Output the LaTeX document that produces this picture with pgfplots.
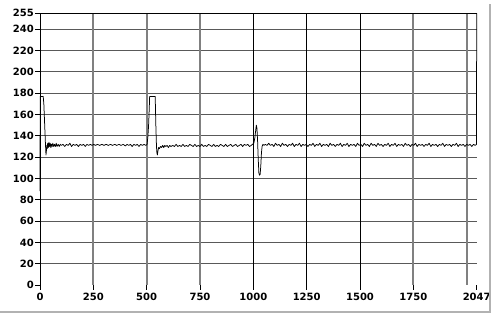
\documentclass[border=0pt]{standalone}
\usepackage{pgfplots}
\pgfplotsset{compat=1.18}
\usepackage{fontspec}
\setmainfont{DejaVu Sans}
\begin{document}
\begin{tikzpicture}[x=1pt,y=1pt]
\useasboundingbox (0,0) rectangle (493,313);
\begin{axis}[
  at={(40pt,28pt)}, anchor=south west,
  scale only axis, width=436.7pt, height=271.7pt,
  xmin=0, xmax=2047, ymin=0, ymax=255,
  axis line style={draw=none},
  xtick={0,250,500,750,1000,1250,1500,1750,2047},
  ytick={0,20,40,60,80,100,120,140,160,180,200,220,240,255},
  xticklabels={0,250,500,750,1000,1250,1500,1750,2047},
  yticklabels={0,20,40,60,80,100,120,140,160,180,200,220,240,255},
  tick align=outside, major tick length=5pt,
  xtick pos=bottom, ytick pos=left,
  tick style={black, line width=0.8pt},
  ticklabel style={font=\fontsize{10}{11}\selectfont\bfseries},
  yticklabel style={inner sep=1pt},
  xticklabel style={inner sep=1pt, yshift=-2pt},
  clip=false,
]
% grid
\foreach \yy in {20,40,...,240}{
  \edef\tmp{\noexpand\draw[black!65, line width=1.1pt] (axis cs:0,\yy) -- (axis cs:2047,\yy);}\tmp
}
\foreach \xx in {250,500,750,1750,2000}{
  \edef\tmp{\noexpand\draw[black!50, line width=1.8pt] (axis cs:\xx,0) -- (axis cs:\xx,255);}\tmp
}
\foreach \xx in {1000,1250,1500}{
  \edef\tmp{\noexpand\draw[black, line width=0.9pt] (axis cs:\xx,0) -- (axis cs:\xx,255);}\tmp
}
\draw[black, line width=1pt] (axis cs:0,0) -- (axis cs:0,255) -- (axis cs:2047,255);
\addplot[black, line width=0.75pt, line join=round] coordinates {
(0,88) (1,177) (15,177) (18,170) (22,150) (25,135) (28,122) (30,126) (32,131) (34,128) (36,133) (39,129) (42,134) (45,130) (48,133) (51,129) (54,132) (57,130) (60,133) (64,130) (68,132) (72,130) (76,133) (80,130) (85,132) (90,130) (95,132) (100,131)
(108,132) (116,130) (124,132) (132,131) (140,133) (148,130) (156,132) (164,131) (172,132) (180,130) (188,132) (196,131) (204,132) (212,130) (220,132) (228,131) (236,132) (244,131) (252,132)
(260,131) (270,132) (280,131) (290,132) (300,131) (310,132) (320,131) (330,132) (340,131) (350,132) (360,131) (370,132) (380,131) (390,132) (400,130.5) (408,132) (416,131) (424,132) (432,130) (440,132) (448,131) (456,132) (464,130) (472,132) (480,131) (488,132) (496,131) (502,132)
(506,140) (509,150) (512,165) (514,177) (540,177) (543,150) (546,130) (548,124) (550,122) (553,126) (556,129) (560,128) (565,130) (570,129) (575,131) (580,129) (585,131) (590,130) (596,131) (602,129) (608,131) (614,130)
(622,131) (630,130) (638,132) (646,130) (654,131) (662,130) (670,132) (678,130) (686,131) (694,130) (702,132) (710,131) (718,130) (726,132) (734,130) (742,131) (750,130) (758,132) (766,130) (774,131) (782,130) (790,132) (798,131) (806,130) (814,132) (822,130) (830,131) (838,130) (846,132) (854,131) (862,130) (870,132) (878,130) (886,131) (894,132) (902,130) (910,131) (918,132) (926,130) (934,131) (942,132) (950,130) (958,132) (966,131) (974,132) (982,130) (990,131) (996,132)
(1002,133) (1007,138) (1011,145) (1014,150) (1017,147) (1020,135) (1023,118) (1026,105) (1029,103) (1032,104) (1035,112) (1038,124) (1041,130) (1045,132) (1050,131) (1056,132)
(1064,131) (1072,133) (1080,131) (1088,132) (1096,130) (1104,133) (1112,131) (1120,132) (1128,130) (1136,133) (1144,131) (1152,132) (1160,130) (1168,132) (1176,131) (1184,133) (1192,130) (1200,132) (1208,131) (1216,133) (1224,130) (1232,132) (1240,131) (1248,132) (1256,130) (1264,132)
(1272,131) (1280,133) (1288,130) (1296,132) (1304,131) (1312,133) (1320,130) (1328,132) (1336,131) (1344,132) (1352,130) (1360,133) (1368,131) (1376,132) (1384,130) (1392,132) (1400,131) (1408,133) (1416,130) (1424,132) (1432,131) (1440,133) (1448,130) (1456,132) (1464,131) (1472,132) (1480,130) (1488,133) (1496,131)
(1504,132) (1512,130) (1520,133) (1528,131) (1536,132) (1544,130) (1552,133) (1560,131) (1568,132) (1576,130) (1584,133) (1592,131) (1600,132) (1608,130) (1616,132) (1624,131) (1632,133) (1640,130) (1648,132) (1656,131) (1664,133) (1672,130) (1680,132) (1688,131) (1696,132) (1704,130) (1712,133) (1720,131) (1728,132) (1736,130) (1744,132)
(1752,131) (1760,133) (1768,130) (1776,132) (1784,131) (1792,132) (1800,130) (1808,132) (1816,131) (1824,133) (1832,130) (1840,132) (1848,131) (1856,132) (1864,130) (1872,132) (1880,131) (1888,133) (1896,130) (1904,132) (1912,131) (1920,132) (1928,130) (1936,132) (1944,131) (1952,133) (1960,130) (1968,132) (1976,131) (1984,132) (1992,130) (2000,132) (2008,131) (2016,132) (2024,130) (2032,132) (2040,131) (2046,132) (2047,255)
};
\end{axis}
\draw[black!30, line width=2pt] (489.5,0) -- (489.5,309);
\draw[black!30, line width=2pt] (0,1) -- (490.5,1);
\end{tikzpicture}
\end{document}
